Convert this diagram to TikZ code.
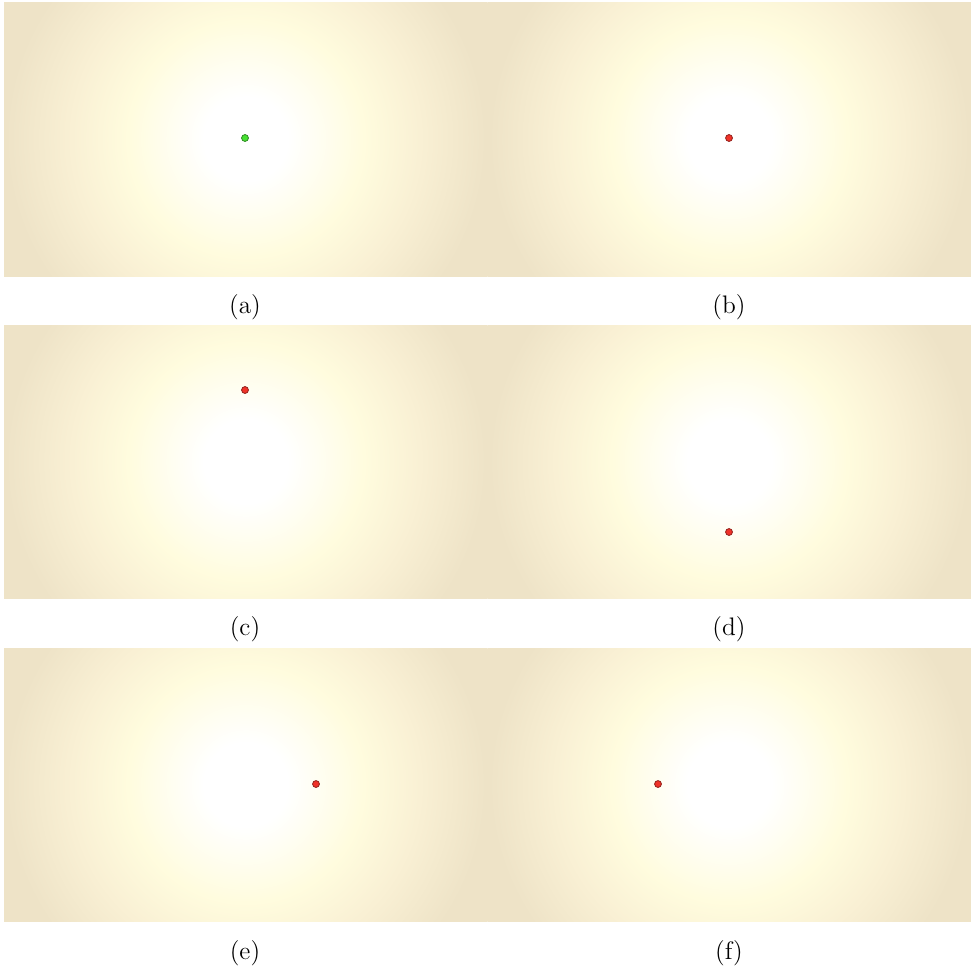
\documentclass[tikz,border=0pt]{standalone}
\usepackage{tikz}
\definecolor{glowy}{RGB}{255,252,222}
\definecolor{glowmid}{RGB}{249,240,212}
\definecolor{glowtan}{RGB}{238,227,199}
\definecolor{dotgreen}{RGB}{70,225,50}
\definecolor{dotred}{RGB}{240,50,40}
\pgfdeclareradialshading{glow}{\pgfpoint{0bp}{0bp}}{color(0bp)=(white); color(3.5bp)=(white); color(9.8bp)=(glowy); color(14.5bp)=(glowmid); color(20bp)=(glowtan); color(50bp)=(glowtan)}
\tikzset{
  dotnode/.style={circle, inner sep=0pt, minimum size=3.1pt, line width=0.35pt},
  greendot/.style={dotnode, fill=dotgreen, draw=dotgreen!60!black},
  reddot/.style={dotnode, fill=dotred, draw=dotred!60!black},
  caption/.style={inner sep=0pt, font=\fontsize{11.4}{14}\selectfont},
}
\newcommand{\glowpanel}[4]{%
  \begin{scope}
    \clip (#1,#2) rectangle (#3,#4);
    \shade[shading=glow] ({(#1+#3)/2},{(#2+#4)/2}) circle (135pt);
  \end{scope}}
\begin{document}
\begin{tikzpicture}[x=0.45pt,y=-0.45pt]
\useasboundingbox (0,0) rectangle (971,968);
% row 1
\glowpanel{4}{2}{487.5}{276}
\glowpanel{487.5}{2}{971}{276}
% row 2
\glowpanel{4}{325}{487.5}{598}
\glowpanel{487.5}{325}{971}{598}
% row 3
\glowpanel{4}{648}{487.5}{921}
\glowpanel{487.5}{648}{971}{921}
% dots
\node[greendot] (da) at (245,138) {};
\node[reddot] (db) at (729,138) {};
\node[reddot] (dc) at (245,390) {};
\node[reddot] (dd) at (729,532) {};
\node[reddot] (de) at (316,784) {};
\node[reddot] (df) at (658,784) {};
% captions
\node[caption] (la) at (245,307) {(a)};
\node[caption] (lb) at (729,307) {(b)};
\node[caption] (lc) at (245,629) {(c)};
\node[caption] (ld) at (729,629) {(d)};
\node[caption] (le) at (245,953) {(e)};
\node[caption] (lf) at (729,953) {(f)};
\end{tikzpicture}
\end{document}
